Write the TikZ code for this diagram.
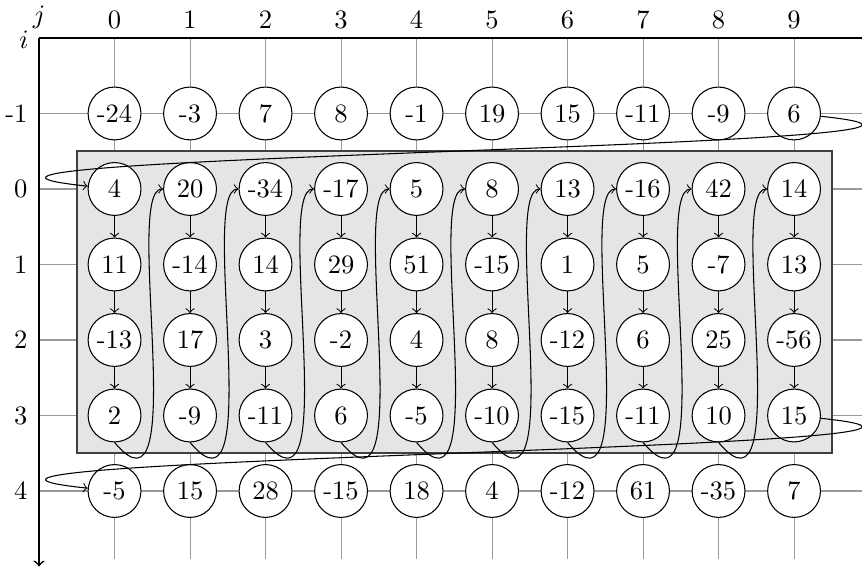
\documentclass[tikz,border=0pt]{standalone}
\usepackage{tikz}
\definecolor{blockfill}{HTML}{E5E5E5}
\definecolor{blockline}{HTML}{404040}
\tikzset{
  cell/.style={draw, circle, fill=white, minimum size=7mm, inner sep=1pt},
  gridline/.style={gray!80, line width=0.4pt},
  axisline/.style={black, line width=0.6pt},
  blockbox/.style={draw=blockline, fill=blockfill, line width=0.6pt},
  flow/.style={->},
}

\begin{document}
\begin{tikzpicture}
  \useasboundingbox (-1.517,2.503) rectangle (9.9,-5.046);
  % grid
  \foreach \j in {0,...,9}
    \draw[gridline] (\j,2) -- (\j,-4.9);
  \foreach \y in {1,0,-1,-2,-3,-4}
    \draw[gridline] (-1,\y) -- (9.9,\y);
  % axes
  \draw[axisline] (-1,2) -- (9.9,2);
  \draw[axisline, ->] (-1,2) -- (-1,-5);
  \node (jlab) at (-1,2.28) {$j$};
  \node (ilab) at (-1.2,1.97) {$i$};
  \foreach \j in {0,...,9}
    \node[above] (col\j) at (\j,2) {\j};
  % block
  \draw[blockbox] (-0.5,0.5) rectangle (9.5,-3.5);
  % values
  \foreach \i/\y/\vals in {
      -1/1/{-24,-3,7,8,-1,19,15,-11,-9,6},
      0/0/{4,20,-34,-17,5,8,13,-16,42,14},
      1/-1/{11,-14,14,29,51,-15,1,5,-7,13},
      2/-2/{-13,17,3,-2,4,8,-12,6,25,-56},
      3/-3/{2,-9,-11,6,-5,-10,-15,-11,10,15},
      4/-4/{-5,15,28,-15,18,4,-12,61,-35,7}}{
    \node[left] (row\i) at (-1.03,\y) {\i};
    \foreach \v [count=\j from 0] in \vals
      \node[cell] (c\i-\j) at (\j,\y) {\v};
  }
  % order of visit
  \foreach \j in {0,...,9}{
    \foreach \a/\b in {0/1,1/2,2/3}
      \draw[flow] (c\a-\j.south) -- (c\b-\j.north);
  }
  \foreach \j/\k in {0/1,1/2,2/3,3/4,4/5,5/6,6/7,7/8,8/9}
    \draw[flow] (c3-\j.south) to[out=-50, in=180, out looseness=1.2, in looseness=0.4] (c0-\k);
  \draw[flow] (c-1-9) to[out=-6, in=174] (c0-0);
  \draw[flow] (c3-9) to[out=-6, in=174] (c4-0);
\end{tikzpicture}
\end{document}
